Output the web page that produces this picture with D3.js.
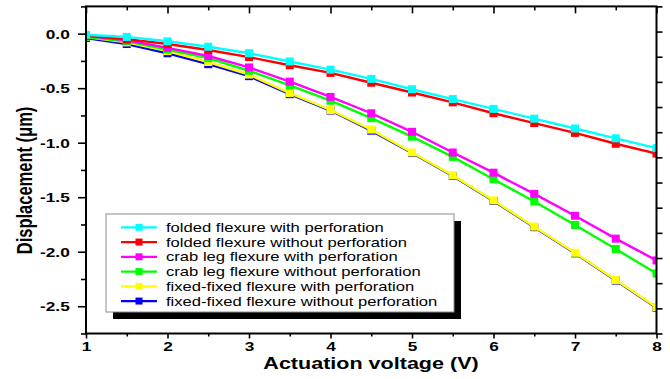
<!DOCTYPE html>
<html>
<head>
<meta charset="utf-8">
<script src="https://cdn.jsdelivr.net/npm/d3@7"></script>
<style>
  html, body { margin: 0; padding: 0; background: #fff; }
  svg { display: block; }
  text { font-family: "Liberation Sans", Arial, Helvetica, sans-serif; }
</style>
</head>
<body>
<svg id="chart" width="670" height="379"></svg>
<script>
// Actuation voltage (V)
const voltages = [1, 1.5, 2, 2.5, 3, 3.5, 4, 4.5, 5, 5.5, 6, 6.5, 7, 7.5, 8];

// Displacement (µm) per flexure design
const foldedWith     = [-0.01, -0.03, -0.07, -0.12, -0.18, -0.255, -0.33, -0.415, -0.51, -0.60, -0.69, -0.78, -0.87, -0.96, -1.05];
const foldedWithout  = [-0.02, -0.05, -0.095, -0.15, -0.215, -0.29, -0.36, -0.45, -0.54, -0.63, -0.73, -0.82, -0.91, -1.01, -1.10];
const crabWith       = [-0.02, -0.06, -0.13, -0.205, -0.31, -0.44, -0.58, -0.73, -0.90, -1.09, -1.275, -1.47, -1.67, -1.88, -2.08];
const crabWithout    = [-0.03, -0.07, -0.145, -0.225, -0.34, -0.475, -0.615, -0.775, -0.945, -1.13, -1.335, -1.54, -1.755, -1.975, -2.20];
const fixedWith      = [-0.03, -0.08, -0.16, -0.26, -0.375, -0.545, -0.70, -0.88, -1.09, -1.30, -1.53, -1.77, -2.01, -2.26, -2.51];
const fixedWithout   = [-0.04, -0.095, -0.18, -0.28, -0.39, -0.555, -0.705, -0.89, -1.095, -1.305, -1.535, -1.775, -2.015, -2.265, -2.515];

const seriesNames = [
  "folded flexure with perforation",
  "folded flexure without perforation",
  "crab leg flexure with perforation",
  "crab leg flexure without perforation",
  "fixed-fixed flexure with perforation",
  "fixed-fixed flexure without perforation"
];
const seriesValues = [foldedWith, foldedWithout, crabWith, crabWithout, fixedWith, fixedWithout];
const seriesColors = ["#00ffff", "#ff0000", "#ff00ff", "#00ff00", "#ffff00", "#0000ff"];

const xTicks = [1, 2, 3, 4, 5, 6, 7, 8];
const xMinor = [1.5, 2.5, 3.5, 4.5, 5.5, 6.5, 7.5];
const yTicks = [0, -0.5, -1, -1.5, -2, -2.5];
const yMinor = [0.25, -0.25, -0.75, -1.25, -1.75, -2.25, -2.75];

const xTitle = "Actuation voltage (V)";
const yTitle = "Displacement (\u03bcm)";

// ---- layout ----
const SX = 1.33; // horizontal widening applied to all lettering
const plot = { left: 86, right: 656.5, top: 6.4, bottom: 333.5 };

const svg = d3.select("#chart");

const x = d3.scaleLinear().domain([1, 8]).range([plot.left, plot.right]);
const y = d3.scaleLinear().domain([0.25, -2.75]).range([plot.top, plot.bottom]);
// secondary right-hand tick scale (13 equal divisions)
const yRight = d3.scaleLinear().domain([0, 13]).range([plot.bottom, plot.top]);

svg.append("defs").append("clipPath").attr("id", "plotClip")
  .append("rect")
  .attr("x", plot.left).attr("y", plot.top)
  .attr("width", plot.right - plot.left).attr("height", plot.bottom - plot.top);

// ---- series (drawn last-to-first so earlier legend entries sit on top) ----
const series = seriesNames.map((name, i) => ({
  name,
  color: seriesColors[i],
  points: voltages.map((v, j) => ({ v, d: seriesValues[i][j] }))
}));

const line = d3.line().x(p => x(p.v)).y(p => y(p.d));
const MS = 8;

const dataG = svg.append("g").attr("clip-path", "url(#plotClip)");
series.slice().reverse().forEach(s => {
  const g = dataG.append("g");
  g.append("path")
    .datum(s.points)
    .attr("d", line)
    .attr("fill", "none")
    .attr("stroke", s.color)
    .attr("stroke-width", 2.4);
  g.selectAll("rect")
    .data(s.points)
    .join("rect")
    .attr("x", p => x(p.v) - MS / 2)
    .attr("y", p => y(p.d) - MS / 2)
    .attr("width", MS)
    .attr("height", MS)
    .attr("fill", s.color);
});

// ---- axes ----
function styleAxis(g) {
  g.select(".domain").remove();
  g.selectAll(".tick line").attr("stroke", "#000").attr("stroke-width", 1.6);
}

// bottom, major with labels (outward)
const gB = svg.append("g").attr("transform", `translate(0,${plot.bottom})`)
  .call(d3.axisBottom(x).tickValues(xTicks).tickSize(5).tickFormat(d3.format("d")));
styleAxis(gB);
gB.selectAll(".tick text")
  .attr("y", 18).attr("dy", 0)
  .attr("transform", `scale(${SX},1)`)
  .attr("font-size", 13).attr("font-weight", "bold").attr("fill", "#000");
svg.append("g").attr("transform", `translate(0,${plot.bottom})`)
  .call(d3.axisBottom(x).tickValues(xMinor).tickSize(3).tickFormat(""))
  .call(styleAxis);

// top, ticks pointing inward
svg.append("g").attr("transform", `translate(0,${plot.top})`)
  .call(d3.axisBottom(x).tickValues(xTicks).tickSize(7).tickFormat(""))
  .call(styleAxis);
svg.append("g").attr("transform", `translate(0,${plot.top})`)
  .call(d3.axisBottom(x).tickValues(xMinor).tickSize(4).tickFormat(""))
  .call(styleAxis);

// left, outward with labels
const gL = svg.append("g").attr("transform", `translate(${plot.left},0)`)
  .call(d3.axisLeft(y).tickValues(yTicks).tickSize(8).tickFormat(d => d.toFixed(1)));
styleAxis(gL);
gL.selectAll(".tick text")
  .attr("x", -12.2).attr("dy", "0.35em")
  .attr("transform", `scale(${SX},1)`)
  .attr("font-size", 13).attr("font-weight", "bold").attr("fill", "#000");
svg.append("g").attr("transform", `translate(${plot.left},0)`)
  .call(d3.axisLeft(y).tickValues(yMinor).tickSize(5).tickFormat(""))
  .call(styleAxis);

// right, outward ticks on 13 equal divisions
svg.append("g").attr("transform", `translate(${plot.right},0)`)
  .call(d3.axisRight(yRight).ticks(13).tickSize(6).tickFormat(""))
  .call(styleAxis);

// frame
svg.append("rect")
  .attr("x", plot.left).attr("y", plot.top)
  .attr("width", plot.right - plot.left).attr("height", plot.bottom - plot.top)
  .attr("fill", "none").attr("stroke", "#000").attr("stroke-width", 2);

// ---- axis titles ----
svg.append("text")
  .attr("transform", `translate(371,368.5) scale(${SX},1)`)
  .attr("text-anchor", "middle")
  .attr("font-size", 16.2).attr("font-weight", "bold").attr("fill", "#000")
  .text(xTitle);

svg.append("text")
  .attr("transform", `translate(32,180.5) scale(${SX},1) rotate(-90)`)
  .attr("text-anchor", "middle")
  .attr("font-size", 16.5).attr("font-weight", "bold").attr("fill", "#000")
  .text(yTitle);

// ---- legend ----
const leg = { x: 106, y: 214, w: 348, h: 98, shadow: 7 };
const legG = svg.append("g");
legG.append("rect")
  .attr("x", leg.x + leg.shadow).attr("y", leg.y + leg.shadow)
  .attr("width", leg.w).attr("height", leg.h)
  .attr("fill", "#000");
legG.append("rect")
  .attr("x", leg.x).attr("y", leg.y)
  .attr("width", leg.w).attr("height", leg.h)
  .attr("fill", "#fff").attr("stroke", "#8c8c8c").attr("stroke-width", 1);

const rowY = i => leg.y + 13.3 + i * 14.75;
const rows = legG.selectAll("g.row").data(series).join("g").attr("class", "row");
rows.append("line")
  .attr("x1", leg.x + 15).attr("x2", leg.x + 51)
  .attr("y1", (d, i) => rowY(i)).attr("y2", (d, i) => rowY(i))
  .attr("stroke", d => d.color).attr("stroke-width", 2.2);
rows.append("rect")
  .attr("x", leg.x + 33 - 3.5).attr("y", (d, i) => rowY(i) - 3.5)
  .attr("width", 7).attr("height", 7)
  .attr("fill", d => d.color);
rows.append("text")
  .attr("transform", (d, i) => `translate(${leg.x + 60},${rowY(i) + 4.5}) scale(${SX},1)`)
  .attr("font-size", 12.5).attr("fill", "#000")
  .text(d => d.name);
</script>
</body>
</html>
